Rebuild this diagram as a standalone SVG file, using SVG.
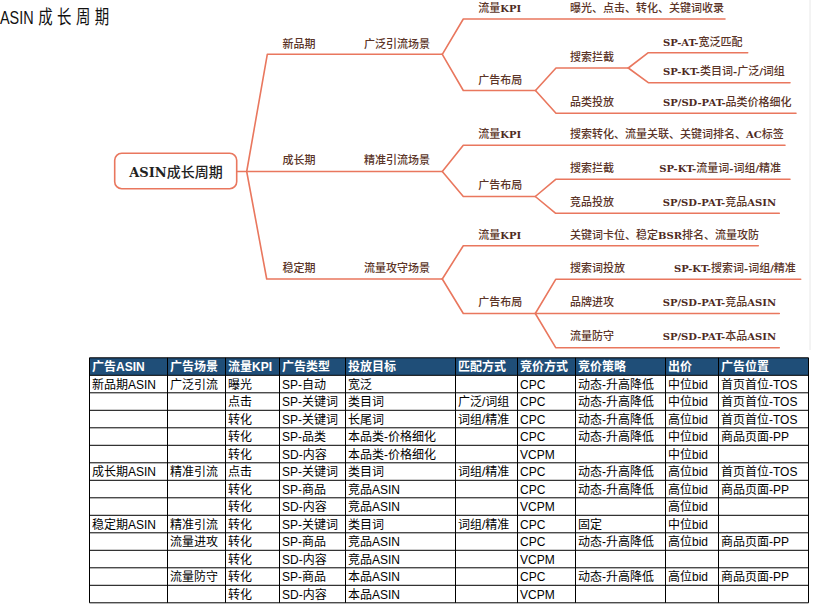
<svg xmlns="http://www.w3.org/2000/svg" width="815" height="611" viewBox="0 0 815 611">
<style>
.ln{fill:none;stroke:#e9775e;stroke-width:1.6;stroke-linejoin:round;stroke-linecap:round}
.lb{font-family:"Noto Sans CJK SC","Noto Sans",sans-serif;font-size:11px;font-weight:500;fill:#5b3427}
.b{font-family:"DejaVu Serif","Liberation Serif",serif;font-size:10px;font-weight:bold;fill:#4e2a1e}
.tt{font-family:"Liberation Sans","Noto Sans CJK SC",sans-serif;font-size:12px;fill:#000}
.th{font-family:"Liberation Sans","Noto Sans CJK SC",sans-serif;font-size:12px;font-weight:bold;fill:#fff}
.grid{fill:none;stroke:#000;stroke-width:1}
</style>
<rect width="815" height="611" fill="#fff"/>
<line x1="810" y1="0" x2="810" y2="350" stroke="#e8e8e8" stroke-width="1"/>
<g id="title">
<text transform="scale(0.76,1)" x="0" y="24" font-family="Liberation Sans,'Noto Sans CJK SC',sans-serif" font-size="19" fill="#111">ASIN<tspan dx="6" letter-spacing="5.8">成长周期</tspan></text>
</g>
<g id="connectors">
<path class="ln" d="M236.7,171.5 H246.7"/>
<path class="ln" d="M246.7,171.5 L267.3,54.3 H442.3"/>
<path class="ln" d="M246.7,171.5 H442.3"/>
<path class="ln" d="M246.7,171.5 L266.7,279 H442.3"/>
<path class="ln" d="M442.3,54.3 L463.3,19 H725"/>
<path class="ln" d="M442.3,54.3 L463.3,90.5 H535.5"/>
<path class="ln" d="M535.5,90.5 L556,68 H628.3"/>
<path class="ln" d="M628.3,68 L648.3,52.7 H747.7"/>
<path class="ln" d="M628.3,68 L648.3,82.7 H790"/>
<path class="ln" d="M535.5,90.5 L556,113.3 H796"/>
<path class="ln" d="M442.3,171.5 L463.3,145.3 H785"/>
<path class="ln" d="M442.3,171.5 L463.3,196.5 H535.3"/>
<path class="ln" d="M535.3,196.5 L555.7,179.3 H790"/>
<path class="ln" d="M535.3,196.5 L555.7,213.3 H779.3"/>
<path class="ln" d="M442.3,279 L463.3,245.7 H758.3"/>
<path class="ln" d="M442.3,279 L463.3,313.5 H535.3"/>
<path class="ln" d="M535.3,313.5 L555.7,279.3 H800.7"/>
<path class="ln" d="M535.3,313.5 H779.3"/>
<path class="ln" d="M535.3,313.5 L555.7,347.7 H779.3"/>
</g>
<g id="root">
<rect x="114.7" y="153.3" width="122" height="35.4" rx="7" fill="#fff" stroke="#e9775e" stroke-width="1.6"/>
<text x="176" y="177" text-anchor="middle" font-family="'Noto Sans CJK SC',sans-serif" font-size="14" font-weight="500" fill="#222"><tspan font-family="'DejaVu Serif',serif" font-size="13" font-weight="bold">ASIN</tspan>成长周期</text>
</g>
<g id="n-xinpin"><text class="lb" x="282.5" y="47.5">新品期</text></g>
<g id="n-guangfan"><text class="lb" x="364" y="47.5">广泛引流场景</text></g>
<g id="n-chengzhang"><text class="lb" x="282.5" y="164.3">成长期</text></g>
<g id="n-jingzhun"><text class="lb" x="364" y="164.3">精准引流场景</text></g>
<g id="n-wending"><text class="lb" x="282.5" y="272.3">稳定期</text></g>
<g id="n-gongshou"><text class="lb" x="364" y="272.3">流量攻守场景</text></g>

<g id="n1-kpi"><text class="lb" x="478.3" y="11.5">流量<tspan class="b">KPI</tspan></text></g>
<g id="n1-kpi-v"><text class="lb" x="570" y="11.5">曝光、点击、转化、关键词收录</text></g>
<g id="n1-ad"><text class="lb" x="478.3" y="84">广告布局</text></g>
<g id="n1-search"><text class="lb" x="570" y="60.7">搜索拦截</text></g>
<g id="n1-spat"><text class="lb" x="663" y="45.7"><tspan class="b">SP-AT-</tspan>宽泛匹配</text></g>
<g id="n1-spkt"><text class="lb" x="663" y="75"><tspan class="b">SP-KT-</tspan>类目词<tspan class="b">-</tspan>广泛<tspan class="b">/</tspan>词组</text></g>
<g id="n1-cat"><text class="lb" x="570" y="105.7">品类投放</text></g>
<g id="n1-pat"><text class="lb" x="663" y="105.7"><tspan class="b">SP/SD-PAT-</tspan>品类价格细化</text></g>

<g id="n2-kpi"><text class="lb" x="478.3" y="138.3">流量<tspan class="b">KPI</tspan></text></g>
<g id="n2-kpi-v"><text class="lb" x="570" y="138.3">搜索转化、流量关联、关键词排名、<tspan class="b">AC</tspan>标签</text></g>
<g id="n2-ad"><text class="lb" x="478.3" y="189">广告布局</text></g>
<g id="n2-search"><text class="lb" x="570" y="172.3">搜索拦截</text></g>
<g id="n2-spkt"><text class="lb" x="659.3" y="172.3"><tspan class="b">SP-KT-</tspan>流量词<tspan class="b">-</tspan>词组<tspan class="b">/</tspan>精准</text></g>
<g id="n2-comp"><text class="lb" x="570" y="205.7">竞品投放</text></g>
<g id="n2-pat"><text class="lb" x="662.7" y="205.7"><tspan class="b">SP/SD-PAT-</tspan>竞品<tspan class="b">ASIN</tspan></text></g>

<g id="n3-kpi"><text class="lb" x="478.3" y="238.5">流量<tspan class="b">KPI</tspan></text></g>
<g id="n3-kpi-v"><text class="lb" x="570" y="239">关键词卡位、稳定<tspan class="b">BSR</tspan>排名、流量攻防</text></g>
<g id="n3-ad"><text class="lb" x="478.3" y="306.3">广告布局</text></g>
<g id="n3-kw"><text class="lb" x="570" y="271.7">搜索词投放</text></g>
<g id="n3-spkt"><text class="lb" x="674" y="271.7"><tspan class="b">SP-KT-</tspan>搜索词<tspan class="b">-</tspan>词组<tspan class="b">/</tspan>精准</text></g>
<g id="n3-brand"><text class="lb" x="570" y="305.7">品牌进攻</text></g>
<g id="n3-pat1"><text class="lb" x="662.7" y="305.7"><tspan class="b">SP/SD-PAT-</tspan>竞品<tspan class="b">ASIN</tspan></text></g>
<g id="n3-def"><text class="lb" x="570" y="340">流量防守</text></g>
<g id="n3-pat2"><text class="lb" x="662.7" y="340"><tspan class="b">SP/SD-PAT-</tspan>本品<tspan class="b">ASIN</tspan></text></g>

<g id="table">
<rect x="89.5" y="357.8" width="719" height="17.5" fill="#1f4e78"/>
<path class="grid" d="M89.5,357.8H808.5M89.5,375.3H808.5M89.5,392.8H808.5M89.5,410.3H808.5M89.5,427.8H808.5M89.5,445.3H808.5M89.5,462.8H808.5M89.5,480.3H808.5M89.5,497.8H808.5M89.5,515.3H808.5M89.5,532.8H808.5M89.5,550.3H808.5M89.5,567.8H808.5M89.5,585.3H808.5M89.5,602.8H808.5
M89.5,357.8V602.8M167.5,357.8V602.8M225.5,357.8V602.8M279.5,357.8V602.8M345.5,357.8V602.8M455.5,357.8V602.8M517.5,357.8V602.8M575.5,357.8V602.8M665.5,357.8V602.8M718.5,357.8V602.8M808.5,357.8V602.8"/>
<g class="th">
<text x="92" y="371">广告ASIN</text><text x="170" y="371">广告场景</text><text x="228" y="371">流量KPI</text><text x="282" y="371">广告类型</text><text x="348" y="371">投放目标</text><text x="458" y="371">匹配方式</text><text x="520" y="371">竞价方式</text><text x="578" y="371">竞价策略</text><text x="668" y="371">出价</text><text x="721" y="371">广告位置</text>
</g>
<g class="tt">
<text x="92" y="388.5">新品期ASIN</text><text x="170" y="388.5">广泛引流</text><text x="228" y="388.5">曝光</text><text x="282" y="388.5">SP-自动</text><text x="348" y="388.5">宽泛</text><text x="520" y="388.5">CPC</text><text x="578" y="388.5">动态-升高降低</text><text x="668" y="388.5">中位bid</text><text x="721" y="388.5">首页首位-TOS</text>
<text x="228" y="406">点击</text><text x="282" y="406">SP-关键词</text><text x="348" y="406">类目词</text><text x="458" y="406">广泛/词组</text><text x="520" y="406">CPC</text><text x="578" y="406">动态-升高降低</text><text x="668" y="406">中位bid</text><text x="721" y="406">首页首位-TOS</text>
<text x="228" y="423.5">转化</text><text x="282" y="423.5">SP-关键词</text><text x="348" y="423.5">长尾词</text><text x="458" y="423.5">词组/精准</text><text x="520" y="423.5">CPC</text><text x="578" y="423.5">动态-升高降低</text><text x="668" y="423.5">高位bid</text><text x="721" y="423.5">首页首位-TOS</text>
<text x="228" y="441">转化</text><text x="282" y="441">SP-品类</text><text x="348" y="441">本品类-价格细化</text><text x="520" y="441">CPC</text><text x="578" y="441">动态-升高降低</text><text x="668" y="441">中位bid</text><text x="721" y="441">商品页面-PP</text>
<text x="228" y="458.5">转化</text><text x="282" y="458.5">SD-内容</text><text x="348" y="458.5">本品类-价格细化</text><text x="520" y="458.5">VCPM</text><text x="668" y="458.5">中位bid</text>
<text x="92" y="476">成长期ASIN</text><text x="170" y="476">精准引流</text><text x="228" y="476">点击</text><text x="282" y="476">SP-关键词</text><text x="348" y="476">类目词</text><text x="458" y="476">词组/精准</text><text x="520" y="476">CPC</text><text x="578" y="476">动态-升高降低</text><text x="668" y="476">高位bid</text><text x="721" y="476">首页首位-TOS</text>
<text x="228" y="493.5">转化</text><text x="282" y="493.5">SP-商品</text><text x="348" y="493.5">竞品ASIN</text><text x="520" y="493.5">CPC</text><text x="578" y="493.5">动态-升高降低</text><text x="668" y="493.5">高位bid</text><text x="721" y="493.5">商品页面-PP</text>
<text x="228" y="511">转化</text><text x="282" y="511">SD-内容</text><text x="348" y="511">竞品ASIN</text><text x="520" y="511">VCPM</text><text x="668" y="511">高位bid</text>
<text x="92" y="528.5">稳定期ASIN</text><text x="170" y="528.5">精准引流</text><text x="228" y="528.5">转化</text><text x="282" y="528.5">SP-关键词</text><text x="348" y="528.5">类目词</text><text x="458" y="528.5">词组/精准</text><text x="520" y="528.5">CPC</text><text x="578" y="528.5">固定</text><text x="668" y="528.5">中位bid</text>
<text x="170" y="546">流量进攻</text><text x="228" y="546">转化</text><text x="282" y="546">SP-商品</text><text x="348" y="546">竞品ASIN</text><text x="520" y="546">CPC</text><text x="578" y="546">动态-升高降低</text><text x="668" y="546">高位bid</text><text x="721" y="546">商品页面-PP</text>
<text x="228" y="563.5">转化</text><text x="282" y="563.5">SD-内容</text><text x="348" y="563.5">竞品ASIN</text><text x="520" y="563.5">VCPM</text>
<text x="170" y="581">流量防守</text><text x="228" y="581">转化</text><text x="282" y="581">SP-商品</text><text x="348" y="581">本品ASIN</text><text x="520" y="581">CPC</text><text x="578" y="581">动态-升高降低</text><text x="668" y="581">高位bid</text><text x="721" y="581">商品页面-PP</text>
<text x="228" y="598.5">转化</text><text x="282" y="598.5">SD-内容</text><text x="348" y="598.5">本品ASIN</text><text x="520" y="598.5">VCPM</text>
</g>
</g>
</svg>
